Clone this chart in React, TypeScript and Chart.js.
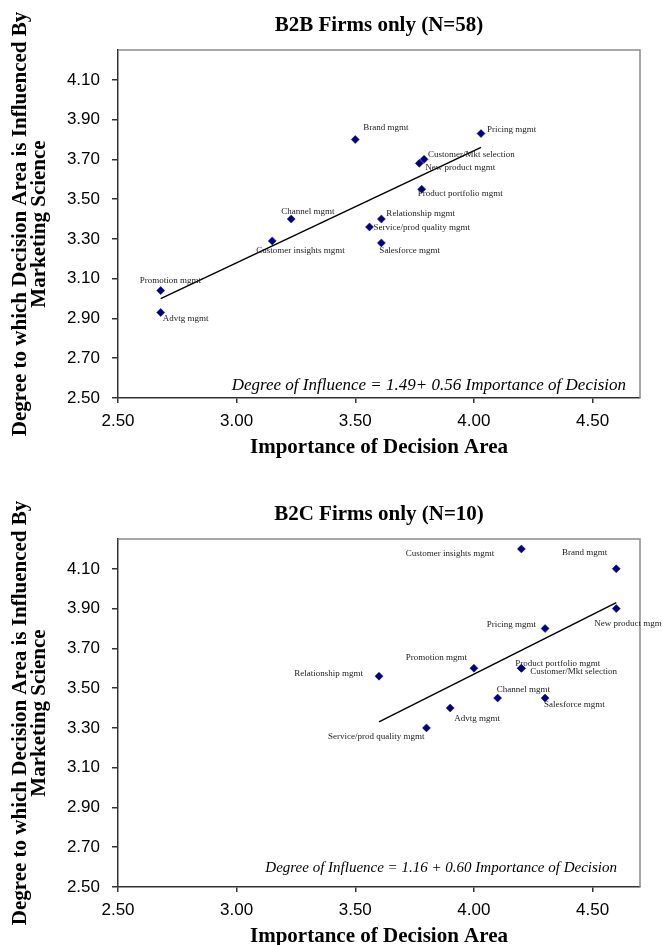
import React, { useEffect, useRef } from "react";
import { Chart, registerables } from "chart.js";

Chart.register(...registerables);

// ---------- axis values ----------
const xTicks = [2.5, 3.0, 3.5, 4.0, 4.5];
const yTicks = [2.5, 2.7, 2.9, 3.1, 3.3, 3.5, 3.7, 3.9, 4.1];
const xRange = [2.5, 4.7];
const yRange = [2.5, 4.25];

const xTitle = "Importance of Decision Area";
const yTitle = ["Degree to which Decision Area is Influenced By", "Marketing Science"];

// ---------- B2B panel ----------
const b2bTitle = "B2B Firms only (N=58)";
const b2bNames = [
  "Brand mgmt",
  "Channel mgmt",
  "Customer insights mgmt",
  "Promotion mgmt",
  "Advtg mgmt",
  "Relationship mgmt",
  "Service/prod quality mgmt",
  "Salesforce mgmt",
  "Pricing mgmt",
  "Customer/Mkt selection",
  "New product mgmt",
  "Product portfolio mgmt",
];
const b2bX = [3.5, 3.23, 3.15, 2.68, 2.68, 3.61, 3.56, 3.61, 4.03, 3.79, 3.77, 3.78];
const b2bY = [3.8, 3.4, 3.29, 3.04, 2.93, 3.4, 3.36, 3.28, 3.83, 3.7, 3.68, 3.55];
const b2bTrendX = [2.68, 4.03];
const b2bTrendY = [3.0, 3.76];
const b2bEquation = "Degree of Influence = 1.49+ 0.56 Importance of Decision";

// ---------- B2C panel ----------
const b2cTitle = "B2C Firms only (N=10)";
const b2cNames = [
  "Customer insights mgmt",
  "Brand mgmt",
  "New product mgmt",
  "Pricing mgmt",
  "Promotion mgmt",
  "Product portfolio mgmt",
  "Customer/Mkt selection",
  "Relationship mgmt",
  "Channel mgmt",
  "Salesforce mgmt",
  "Advtg mgmt",
  "Service/prod quality mgmt",
];
const b2cX = [4.2, 4.6, 4.6, 4.3, 4.0, 4.2, 4.2, 3.6, 4.1, 4.3, 3.9, 3.8];
const b2cY = [4.2, 4.1, 3.9, 3.8, 3.6, 3.6, 3.6, 3.56, 3.45, 3.45, 3.4, 3.3];
const b2cTrendX = [3.6, 4.6];
const b2cTrendY = [3.33, 3.93];
const b2cEquation = "Degree of Influence = 1.16 + 0.60 Importance of Decision";

// ---------- label placement (pixel offsets from the marker; style only) ----------
type Place = [number, number, CanvasTextAlign];
const b2bPlacement: Place[] = [
  [8, -12, "left"],
  [-10, -7, "left"],
  [-16, 10, "left"],
  [-21, -10, "left"],
  [2, 6, "left"],
  [5, -5, "left"],
  [4, 1, "left"],
  [-2, 8, "left"],
  [6, -4, "left"],
  [4, -5, "left"],
  [6, 4, "left"],
  [-4, 4, "left"],
];
const b2cPlacement: Place[] = [
  [-27, 5, "right"],
  [-9, -16, "right"],
  [-22, 15, "left"],
  [-9, -4, "right"],
  [-7, -11, "right"],
  [-6, -5, "left"],
  [9, 3, "left"],
  [-16, -3, "right"],
  [-1, -8, "left"],
  [-1, 7, "left"],
  [4, 11, "left"],
  [-2, 9, "right"],
];

type PanelProps = {
  title: string;
  names: string[];
  xs: number[];
  ys: number[];
  trendX: number[];
  trendY: number[];
  equation: string;
  eqSize: number;
  eqRight: number;
  eqUp: number;
  placement: Place[];
  top: number;
};

const CANVAS_W = 662;
const CANVAS_H = 470;

function Panel(props: PanelProps) {
  const ref = useRef<HTMLCanvasElement | null>(null);
  useEffect(() => {
    const canvas = ref.current;
    if (!canvas) return;
    const { title, names, xs, ys, trendX, trendY, equation, eqSize, eqRight, eqUp, placement } = props;

    const decor = {
      id: "decor",
      afterDraw(chart: any) {
        const { ctx, chartArea } = chart;
        const { left, right, top, bottom } = chartArea;
        ctx.save();
        ctx.strokeStyle = "#8a8a8a";
        ctx.lineWidth = 1.5;
        ctx.beginPath();
        ctx.moveTo(left, top);
        ctx.lineTo(right, top);
        ctx.lineTo(right, bottom);
        ctx.stroke();
        ctx.fillStyle = "#000";
        ctx.font = 'bold 21px "Liberation Serif"';
        ctx.textAlign = "center";
        ctx.textBaseline = "middle";
        ctx.fillText(title, (left + right) / 2, 25.7);
        const meta = chart.getDatasetMeta(0);
        ctx.font = '9px "Liberation Serif"';
        ctx.fillStyle = "#222";
        meta.data.forEach((pt: any, i: number) => {
          const p = placement[i];
          ctx.textAlign = p[2];
          ctx.fillText(names[i], pt.x + p[0], pt.y + p[1]);
        });
        ctx.font = `italic ${eqSize}px "Liberation Serif"`;
        ctx.fillStyle = "#000";
        ctx.textAlign = "right";
        ctx.fillText(equation, right - eqRight, bottom - eqUp);
        ctx.restore();
      },
    };

    const axisColor = "#333";
    const chart = new Chart(canvas, {
      type: "scatter",
      data: {
        datasets: [
          {
            data: xs.map((x, i) => ({ x, y: ys[i] })),
            pointStyle: "rectRot",
            pointRadius: 4,
            backgroundColor: "#000080",
            borderColor: "#000080",
            borderWidth: 0.5,
            order: 0,
          },
          {
            data: trendX.map((x, i) => ({ x, y: trendY[i] })),
            showLine: true,
            pointRadius: 0,
            borderColor: "#000",
            borderWidth: 1.5,
            order: 1,
          },
        ],
      },
      options: {
        animation: false,
        responsive: false,
        layout: { padding: { top: 50, right: 22, left: 0, bottom: 0 } },
        plugins: {
          legend: { display: false },
          tooltip: { enabled: false },
          title: { display: false },
        },
        scales: {
          x: {
            type: "linear",
            position: "bottom",
            min: xRange[0],
            max: xRange[1],
            afterBuildTicks: (axis: any) => {
              axis.ticks = xTicks.map((v) => ({ value: v }));
            },
            afterFit: (axis: any) => {
              axis.height = 72;
            },
            ticks: {
              autoSkip: false,
              maxRotation: 0,
              padding: 8,
              color: "#000",
              font: { family: "Liberation Sans", size: 17 },
              callback: (v: any) => Number(v).toFixed(2),
            },
            grid: {
              display: true,
              drawOnChartArea: false,
              drawTicks: true,
              tickLength: 5,
              color: axisColor,
              lineWidth: 1.5,
            },
            border: { display: true, color: axisColor, width: 1.5 },
            title: {
              display: true,
              text: xTitle,
              color: "#000",
              font: { family: "Liberation Serif", size: 21, weight: "bold" },
              padding: { top: 0, bottom: 9.5 },
            },
          },
          y: {
            type: "linear",
            min: yRange[0],
            max: yRange[1],
            afterBuildTicks: (axis: any) => {
              axis.ticks = yTicks.map((v) => ({ value: v }));
            },
            afterFit: (axis: any) => {
              axis.width = 118;
            },
            ticks: {
              autoSkip: false,
              padding: 12,
              color: "#000",
              font: { family: "Liberation Sans", size: 17 },
              callback: (v: any) => Number(v).toFixed(2),
            },
            grid: {
              display: true,
              drawOnChartArea: false,
              drawTicks: true,
              tickLength: 6,
              color: axisColor,
              lineWidth: 1.5,
            },
            border: { display: true, color: axisColor, width: 1.5 },
            title: {
              display: true,
              text: yTitle,
              color: "#000",
              font: { family: "Liberation Serif", size: 21, weight: "bold", lineHeight: "19px" },
              padding: { top: 11.5, bottom: 0 },
            },
          },
        },
      },
      plugins: [decor],
    } as any);
    return () => chart.destroy();
  }, []);

  return (
    <canvas
      ref={ref}
      width={CANVAS_W}
      height={CANVAS_H}
      style={{ position: "absolute", left: 0, top: props.top, width: CANVAS_W, height: CANVAS_H }}
    />
  );
}

export default function App() {
  return (
    <div
      style={{
        position: "absolute",
        left: 0,
        top: 0,
        width: 662,
        height: 945,
        overflow: "hidden",
        background: "#fff",
      }}
    >
      <Panel
        title={b2bTitle}
        names={b2bNames}
        xs={b2bX}
        ys={b2bY}
        trendX={b2bTrendX}
        trendY={b2bTrendY}
        equation={b2bEquation}
        eqSize={17}
        eqRight={14}
        eqUp={12}
        placement={b2bPlacement}
        top={0}
      />
      <Panel
        title={b2cTitle}
        names={b2cNames}
        xs={b2cX}
        ys={b2cY}
        trendX={b2cTrendX}
        trendY={b2cTrendY}
        equation={b2cEquation}
        eqSize={15}
        eqRight={23}
        eqUp={19}
        placement={b2cPlacement}
        top={489}
      />
    </div>
  );
}
